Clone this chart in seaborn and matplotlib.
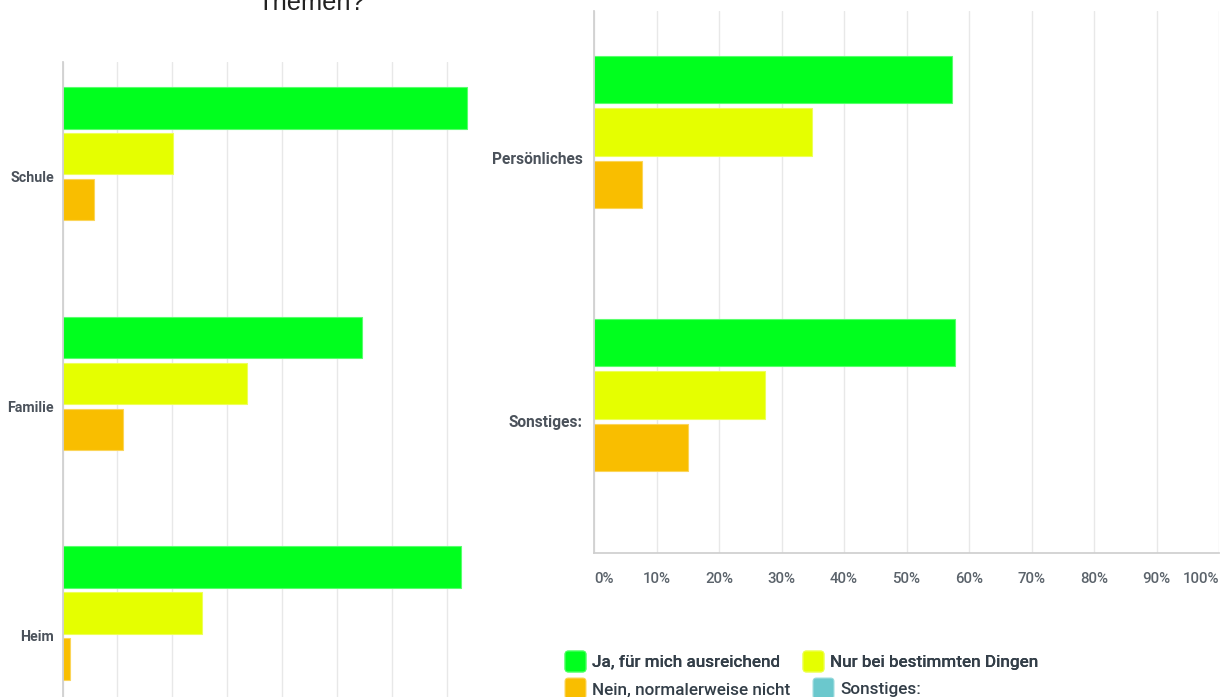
import matplotlib
matplotlib.use("Agg")
import numpy as np
import pandas as pd
import seaborn as sns
import matplotlib.pyplot as plt
from matplotlib.lines import Line2D
from matplotlib.patches import FancyBboxPatch
from matplotlib.colors import to_rgb

sns.set_theme(style="white")
plt.rcParams["font.family"] = ["Roboto", "DejaVu Sans"]

# Answer options (hue levels) and their colours
series = ["Ja, für mich ausreichend", "Nur bei bestimmten Dingen",
          "Nein, normalerweise nicht", "Sonstiges:"]
colors = ["#00FF1E", "#E5FF00", "#F9BE00", "#6BC8CD"]

# Left block: share of answers per topic (%)
left_categories = ["Schule", "Familie", "Heim"]
left_ja = [73.6, 54.6, 72.6]
left_nur = [20.1, 33.7, 25.5]
left_nein = [5.7, 11.1, 1.3]
left_sonst = [0.0, 0.0, 0.0]

# Right block: share of answers per topic (%)
right_categories = ["Persönliches", "Sonstiges:"]
right_ja = [57.2, 57.7]
right_nur = [34.9, 27.4]
right_nein = [7.7, 15.0]
right_sonst = [0.0, 0.0]

tick_values = list(range(0, 101, 10))
tick_labels = [f"{v}%" for v in tick_values]


def long_frame(categories, columns):
    rows = []
    for name, vals in zip(series, columns):
        for cat, v in zip(categories, vals):
            rows.append({"Bereich": cat, "Antwort": name, "Anteil": v})
    return pd.DataFrame(rows)


def lighter(c, amount=0.35):
    r, g, b = to_rgb(c)
    return (r + (1 - r) * amount, g + (1 - g) * amount, b + (1 - b) * amount)


df_left = long_frame(left_categories, [left_ja, left_nur, left_nein, left_sonst])
df_right = long_frame(right_categories, [right_ja, right_nur, right_nein, right_sonst])

W, H = 1222, 697
fig = plt.figure(figsize=(W / 100, H / 100), dpi=100)
ax_l = fig.add_axes([62.5 / W, 1 - 750.75 / H, 417.2 / W, 688.75 / H])
ax_r = fig.add_axes([594 / W, 1 - 553 / H, 625 / W, 542 / H])

label_color = "#4b525b"
grid_color = "#e8e8e8"
spine_color = "#cfcfcf"

for ax, df, cats in [(ax_l, df_left, left_categories), (ax_r, df_right, right_categories)]:
    sns.barplot(data=df, y="Bereich", x="Anteil", hue="Antwort", hue_order=series,
                order=cats, palette=colors, orient="h", width=0.8, gap=0.1,
                saturation=1, legend=False, ax=ax, errorbar=None)
    for p in ax.patches:
        fc = p.get_facecolor()
        if p.get_width() == 0:
            p.set_linewidth(0)
        else:
            p.set_edgecolor(lighter(fc[:3]))
            p.set_linewidth(0.8)
    ax.set_xlabel("")
    ax.set_ylabel("")
    ax.set_xticks(tick_values)
    ax.xaxis.grid(True, color=grid_color, linewidth=1)
    ax.yaxis.grid(False)
    ax.set_axisbelow(True)
    for s in ["top", "right"]:
        ax.spines[s].set_visible(False)
    ax.spines["left"].set_color(spine_color)
    ax.spines["bottom"].set_color(spine_color)
    ax.tick_params(axis="both", length=0)

# Left block
ax_l.set_xlim(0, 76)
ax_l.set_ylim(2.5, -0.5)
ax_l.set_xticklabels([])
ax_l.spines["bottom"].set_visible(False)
ax_l.tick_params(axis="y", pad=6)
for lbl in ax_l.get_yticklabels():
    lbl.set_fontsize(10.2)
    lbl.set_fontweight("bold")
    lbl.set_color(label_color)

# Right block
ax_r.set_xlim(0, 100)
ax_r.set_ylim(1.5, -0.56)
ax_r.set_xticklabels(tick_labels)
ax_r.tick_params(axis="x", pad=14, labelsize=10.8, labelcolor="#5b636b")
ax_r.tick_params(axis="y", pad=8)
for lbl in ax_r.get_yticklabels():
    lbl.set_fontsize(11.2)
    lbl.set_fontweight("bold")
    lbl.set_color(label_color)
xl = ax_r.get_xticklabels()
for lbl in xl:
    lbl.set_fontweight("medium")
xl[0].set_horizontalalignment("left")
xl[-1].set_horizontalalignment("right")

# Question title
fig.text(311 / W, 1 - 10 / H, "Themen?", ha="center", va="baseline",
         fontsize=18.4, color="#222222", family=["Liberation Sans", "DejaVu Sans"])

# Legend with rounded square keys, laid out in two rows
box = FancyBboxPatch((-0.5, -0.5), 1, 1, boxstyle="round,pad=0,rounding_size=0.16")
key_path = box.get_path()


def key(c):
    return Line2D([0], [0], marker=key_path, markersize=15, linestyle="none",
                  markerfacecolor=c, markeredgecolor=lighter(c, 0.3), markeredgewidth=0.8)


legend_kw = dict(loc="center left", ncol=2, frameon=False, borderpad=0, borderaxespad=0,
                 handlelength=1.2, handletextpad=0.4, columnspacing=1.3,
                 prop=dict(size=12.3, weight="medium"), labelcolor="#333e48")
leg1 = fig.legend(handles=[key(colors[0]), key(colors[1])], labels=series[:2],
                  bbox_to_anchor=(565 / W, 1 - 662 / H), **legend_kw)
fig.add_artist(leg1)
fig.legend(handles=[key(colors[2]), key(colors[3])], labels=series[2:],
           bbox_to_anchor=(565 / W, 1 - 689.5 / H), **legend_kw)

fig.savefig("out.png", dpi=100)
